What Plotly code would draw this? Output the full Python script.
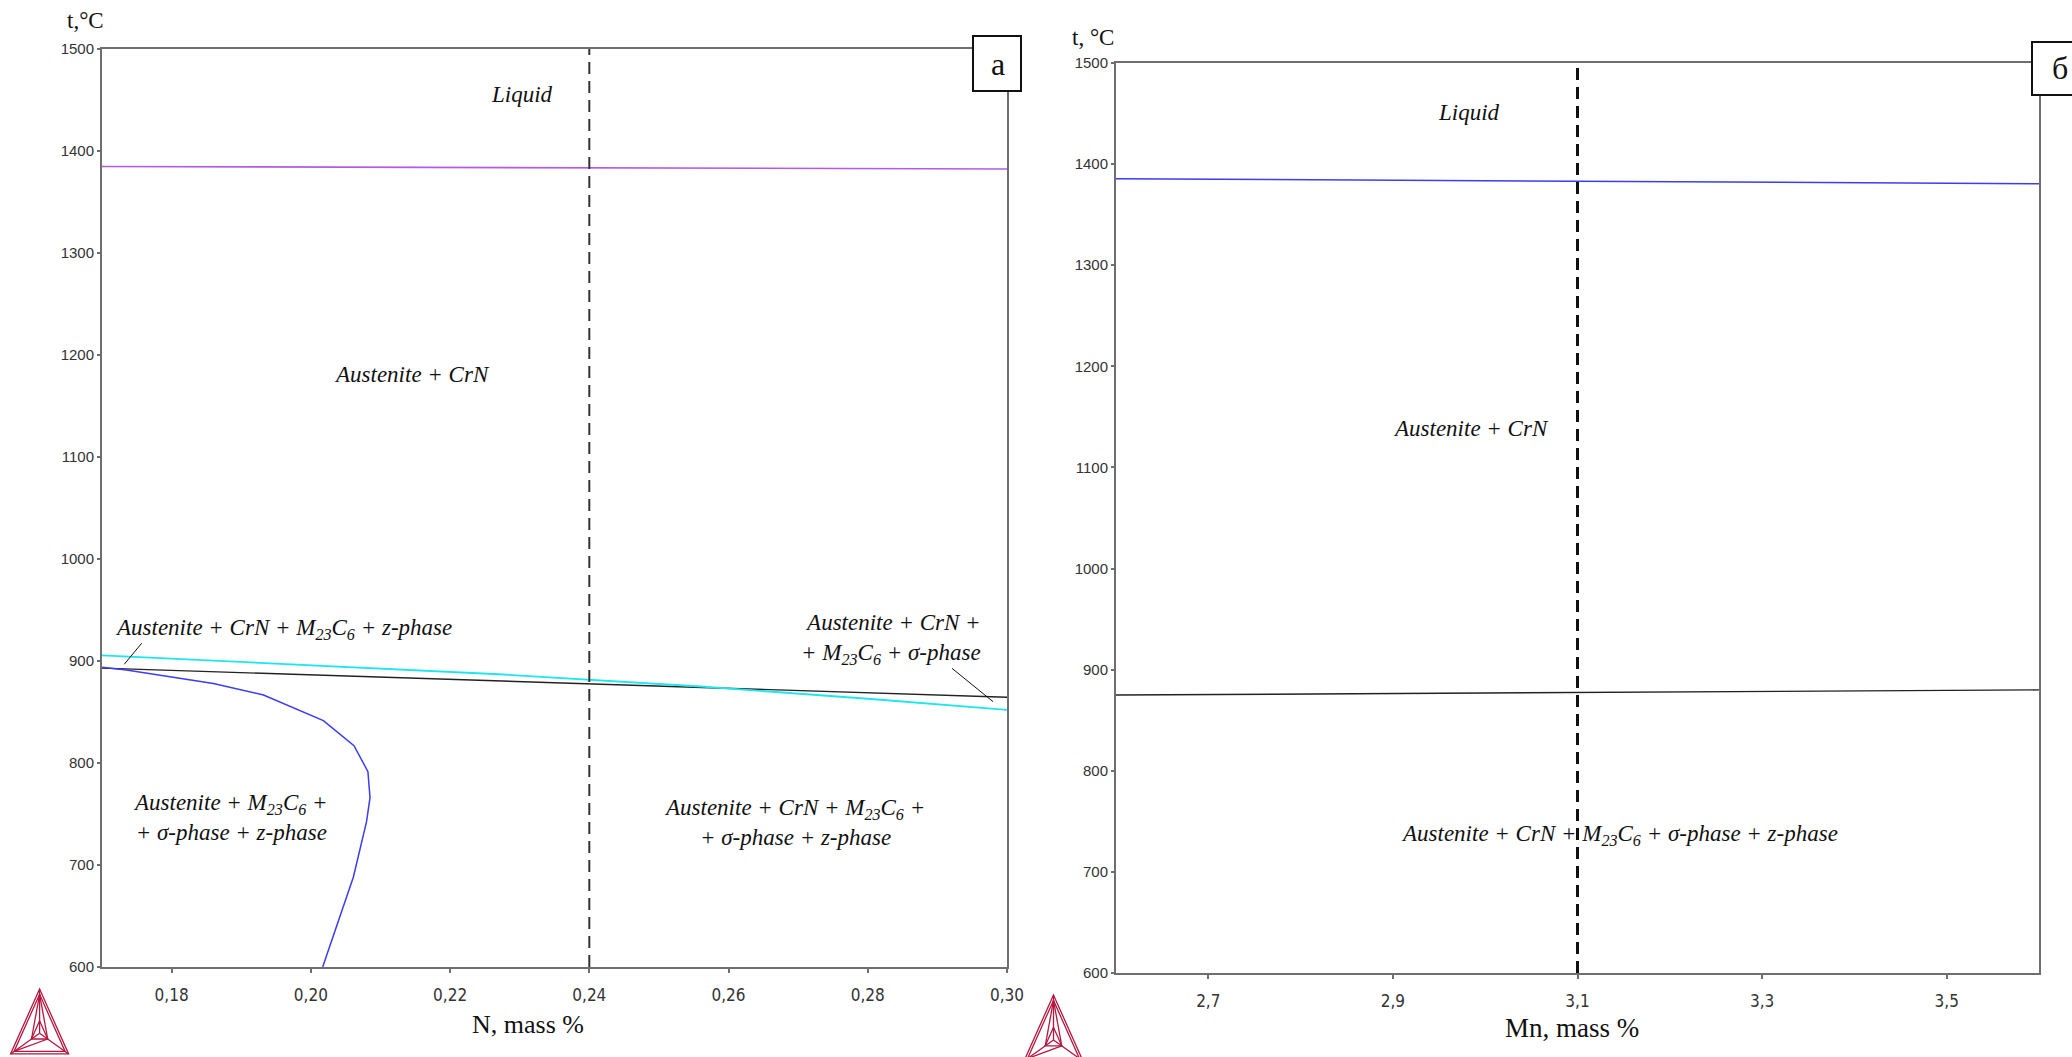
import plotly.graph_objects as go

# --- data: left panel (N, mass %) ---
N_RANGE = [0.17, 0.30]
N_TICKS = [0.18, 0.20, 0.22, 0.24, 0.26, 0.28, 0.30]
liquidus_n = [0.17, 0.30]
liquidus_t = [1384.8, 1382.4]
cyan_n = [0.17, 0.20, 0.227, 0.256, 0.28, 0.30]
cyan_t = [905.5, 896, 887, 875, 863, 852]
black_n = [0.17, 0.20, 0.227, 0.256, 0.28, 0.30]
black_t = [893, 886.5, 880.4, 874.2, 868.5, 864.4]
blue_n = [0.17, 0.1735, 0.186, 0.1932, 0.2018, 0.2062, 0.2082, 0.2085, 0.2080, 0.2061, 0.2017]
blue_t = [893.8, 891.2, 878, 866.7, 841.5, 817, 791.5, 766, 742.5, 688, 600]
N_MARK = 0.24

# --- data: right panel (Mn, mass %) ---
MN_RANGE = [2.6, 3.6]
MN_TICKS = [2.7, 2.9, 3.1, 3.3, 3.5]
liq_mn = [2.6, 3.6]
liq_mn_t = [1385.5, 1380.6]
black_mn = [2.6, 3.6]
black_mn_t = [874.9, 880.0]
MN_MARK = 3.1

T_RANGE = [600, 1500]
T_TICKS = [600, 700, 800, 900, 1000, 1100, 1200, 1300, 1400, 1500]

W, H = 2072, 1057
PURPLE = '#b45ae6'
CYAN = '#1ee6f0'
BLUE = '#3c3cf0'
DARK = '#222222'
AXIS = '#6e6e6e'
LOGO = '#b3173f'
SERIF = 'Times New Roman, Liberation Serif, DejaVu Serif, serif'


def px(x, y):
    return x / W, 1 - y / H


fig = go.Figure()

# left panel
fig.add_trace(go.Scatter(x=liquidus_n, y=liquidus_t, mode='lines', line=dict(color=PURPLE, width=1.6)))
fig.add_trace(go.Scatter(x=black_n, y=black_t, mode='lines', line=dict(color=DARK, width=1.4)))
fig.add_trace(go.Scatter(x=cyan_n, y=cyan_t, mode='lines', line=dict(color=CYAN, width=1.8)))
fig.add_trace(go.Scatter(x=blue_n, y=blue_t, mode='lines', line=dict(color=BLUE, width=1.5)))
fig.add_trace(go.Scatter(x=[N_MARK, N_MARK], y=T_RANGE, mode='lines',
                         line=dict(color='#333333', width=2, dash='12px,7px')))

# right panel
fig.add_trace(go.Scatter(x=liq_mn, y=liq_mn_t, mode='lines', line=dict(color=BLUE, width=1.5),
                         xaxis='x2', yaxis='y2'))
fig.add_trace(go.Scatter(x=black_mn, y=black_mn_t, mode='lines', line=dict(color=DARK, width=1.4),
                         xaxis='x2', yaxis='y2'))
fig.add_trace(go.Scatter(x=[MN_MARK, MN_MARK], y=T_RANGE, mode='lines',
                         line=dict(color='#111111', width=3, dash='12px,7px'),
                         xaxis='x2', yaxis='y2'))

axis_common = dict(showline=True, mirror=True, linecolor=AXIS, linewidth=2, showgrid=False,
                   zeroline=False, ticks='outside', tickcolor=AXIS, tickwidth=1.5)
xtick_font = dict(family='Liberation Sans Narrow, DejaVu Sans Condensed, Liberation Sans', size=17, color='#333')
ytick_font = dict(family='Liberation Sans, Arial, sans-serif', size=15, color='#333')

fig.update_layout(
    width=W, height=H, margin=dict(l=0, r=0, t=0, b=0, autoexpand=False),
    paper_bgcolor='white', plot_bgcolor='white', showlegend=False,
    separators=', ',
    xaxis=dict(domain=[102 / W, 1007 / W], range=N_RANGE, tickvals=N_TICKS, tickformat='.2f',
               tickfont=xtick_font, ticklen=4, ticklabelstandoff=8, **axis_common),
    yaxis=dict(domain=[1 - 967 / H, 1 - 49 / H], range=T_RANGE, tickvals=T_TICKS, tickformat='d',
               tickfont=ytick_font, ticklen=3, **axis_common),
    xaxis2=dict(domain=[1116 / W, 2039 / W], range=MN_RANGE, tickvals=MN_TICKS, tickformat='.1f',
                tickfont=xtick_font, ticklen=4, ticklabelstandoff=8, anchor='y2', **axis_common),
    yaxis2=dict(domain=[1 - 973 / H, 1 - 63 / H], range=T_RANGE, tickvals=T_TICKS, tickformat='d',
                tickfont=ytick_font, anchor='x2', ticklen=3, **axis_common),
)

M23 = 'M<sub>23</sub>C<sub>6</sub>'
lab = dict(family=SERIF, size=23, color='#111')
notes = [
    ('x', 'y', 0.2303, 1455, '<i>Liquid</i>', 'center'),
    ('x', 'y', 0.2145, 1181, '<i>Austenite + CrN</i>', 'center'),
    ('x', 'y', 0.1716, 931, f'<i>Austenite + CrN + {M23} + z-phase</i>', 'left'),
    ('x', 'y', 0.1884, 747, f'<i>Austenite + {M23} +<br>+ σ-phase + z-phase</i>', 'center'),
    ('x', 'y', 0.2966, 922, f'<i>Austenite + CrN +<br>+ {M23} + σ-phase</i>', 'right'),
    ('x', 'y', 0.2695, 742, f'<i>Austenite + CrN + {M23} +<br>+ σ-phase + z-phase</i>', 'center'),
    ('x2', 'y2', 2.982, 1451, '<i>Liquid</i>', 'center'),
    ('x2', 'y2', 2.985, 1139, '<i>Austenite + CrN</i>', 'center'),
    ('x2', 'y2', 3.145, 736, f'<i>Austenite + CrN + {M23} + σ-phase + z-phase</i>', 'center'),
]
for xr, yr, x, y, text, anchor in notes:
    fig.add_annotation(xref=xr, yref=yr, x=x, y=y, text=text, showarrow=False,
                       xanchor=anchor, align=anchor, font=lab)

# leader lines to narrow regions
fig.add_shape(type='line', xref='x', yref='y', x0=0.1732, y0=896.8, x1=0.1757, y1=917.4,
              line=dict(color='#111', width=1))
fig.add_shape(type='line', xref='x', yref='y', x0=0.2921, y0=892.8, x1=0.2980, y1=860.1,
              line=dict(color='#111', width=1))

# axis captions
for x, y, text, size in [(85, 20, 't,°C', 23), (1093, 37, 't, °C', 23),
                         (528, 1024, 'N, mass %', 26), (1572, 1028, 'Mn, mass %', 27)]:
    fx, fy = px(x, y)
    fig.add_annotation(xref='paper', yref='paper', x=fx, y=fy, text=text, showarrow=False,
                       xanchor='center', yanchor='middle', font=dict(family=SERIF, size=size, color='#111'))

# panel letters in boxes
for (x0, y0, x1, y1), (cx, cy), letter in [((973, 36, 1021, 91), (998, 64), 'a'),
                                            ((2032, 42, 2080, 95), (2060, 68), 'б')]:
    a0, b0 = px(x0, y0)
    a1, b1 = px(x1, y1)
    fig.add_shape(type='rect', xref='paper', yref='paper', x0=a0, y0=b0, x1=a1, y1=b1,
                  line=dict(color='#111', width=2), fillcolor='white', layer='above')
    fx, fy = px(cx, cy)
    fig.add_annotation(xref='paper', yref='paper', x=fx, y=fy, text=letter, showarrow=False,
                       xanchor='center', yanchor='middle', font=dict(family=SERIF, size=32, color='#111'))


# logo: nested triangle mark
def logo(ax, ay, bw):
    h = bw * 1.12
    top = (ax, ay)
    bl = (ax - bw / 2, ay + h)
    br = (ax + bw / 2, ay + h)
    c = (ax, ay + h * 0.68)

    def path(pts, close=True):
        s = 'M ' + ' L '.join('%f,%f' % px(*p) for p in pts)
        return s + (' Z' if close else '')

    def lerp(p, q, t):
        return (p[0] + (q[0] - p[0]) * t, p[1] + (q[1] - p[1]) * t)

    paths = [path([top, bl, br])]
    inner = [lerp(top, c, 0.12), lerp(bl, c, 0.12), lerp(br, c, 0.12)]
    paths.append(path(inner))
    small = [lerp(c, top, 0.28), lerp(c, bl, 0.28), lerp(c, br, 0.28)]
    paths.append(path(small))
    for v in (top, bl, br):
        paths.append(path([c, v], close=False))
    paths.append(path([lerp(top, c, 0.12), lerp(c, bl, 0.28)], close=False))
    paths.append(path([lerp(top, c, 0.12), lerp(c, br, 0.28)], close=False))
    paths.append(path([lerp(bl, c, 0.12), lerp(c, br, 0.28)], close=False))
    for p in paths:
        fig.add_shape(type='path', xref='paper', yref='paper', path=p,
                      line=dict(color=LOGO, width=1.3), layer='above')


logo(39.6, 989, 58)
logo(1053.5, 995, 59)

fig.write_html('out.html', config={'displayModeBar': False},
               post_script="document.body.style.margin='0';document.body.style.overflow='hidden';")
